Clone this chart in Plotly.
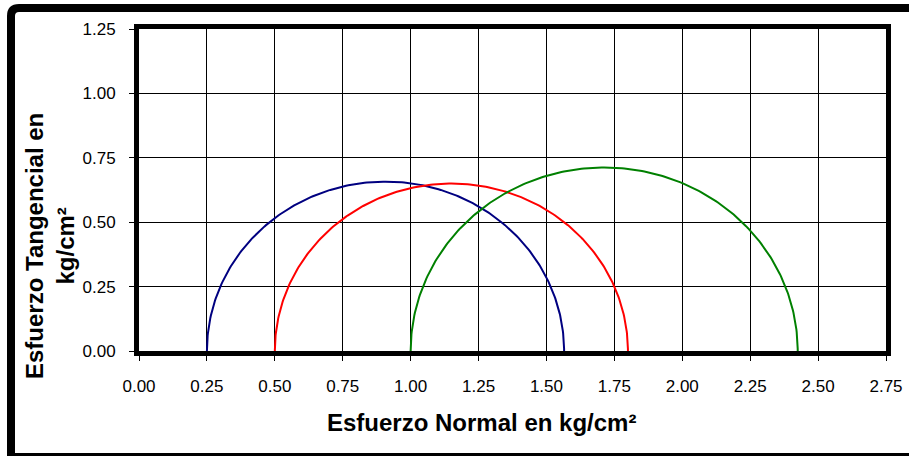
import numpy as np
import plotly.graph_objects as go

# Mohr circles: minor and major principal stresses (kg/cm2)
sigma3 = [0.25, 0.50, 1.00]
sigma1 = [1.565, 1.80, 2.425]
colors = ["#000080", "#FF0000", "#008000"]

x_ticks = [0.00, 0.25, 0.50, 0.75, 1.00, 1.25, 1.50, 1.75, 2.00, 2.25, 2.50, 2.75]
y_ticks = [0.00, 0.25, 0.50, 0.75, 1.00, 1.25]

FONT = "Liberation Sans, Arial, sans-serif"

fig = go.Figure()
theta = np.linspace(0, np.pi, 241)
for s3, s1, c in zip(sigma3, sigma1, colors):
    center = (s1 + s3) / 2
    r = (s1 - s3) / 2
    fig.add_trace(go.Scatter(
        x=center - r * np.cos(theta), y=r * np.sin(theta),
        mode="lines", line=dict(color=c, width=2), showlegend=False,
        hoverinfo="skip"))

L, R, T, B = 139, 909 - 886, 29, 456 - 351
W = 909 - L - R
H = 456 - T - B

def px(x):
    return (x - L) / W

def py(y):
    return (456 - B - y) / H

# outer frame with rounded top-left corner
fx0, fx1, fy_top, fy_bot, rad = 11, 925, 8, 457, 8
frame_path = (f"M {px(fx0)},{py(fy_bot)} L {px(fx0)},{py(fy_top + rad)} "
              f"Q {px(fx0)},{py(fy_top)} {px(fx0 + rad)},{py(fy_top)} "
              f"L {px(fx1)},{py(fy_top)} L {px(fx1)},{py(fy_bot)} Z")

axis_common = dict(showgrid=True, gridcolor="black", gridwidth=1,
                   showline=True, linecolor="black", linewidth=5, mirror=True,
                   ticks="outside", ticklen=5, tickcolor="black", tickwidth=1,
                   zeroline=False, automargin=False,
                   tickfont=dict(size=17, family=FONT, color="black"))

fig.update_layout(
    width=909, height=456,
    margin=dict(l=L, r=R, t=T, b=B),
    paper_bgcolor="white", plot_bgcolor="white",
    font=dict(family=FONT, color="black", size=16),
    xaxis=dict(range=[0, 2.75], tickvals=x_ticks,
               ticktext=[f"{v:.2f}" for v in x_ticks],
               ticklabelstandoff=11, **axis_common),
    yaxis=dict(range=[0, 1.25], tickvals=y_ticks,
               ticktext=[f"{v:.2f}" for v in y_ticks],
               ticklabelstandoff=10, **axis_common),
    annotations=[
        dict(text="<b>Esfuerzo Normal en kg/cm²</b>", xref="paper", yref="paper",
             x=px(481), y=py(422), xanchor="center", yanchor="middle",
             showarrow=False, font=dict(size=24, family=FONT)),
        dict(text="<b>Esfuerzo Tangencial en<br>kg/cm²</b>", xref="paper", yref="paper",
             x=px(50), y=py(246), xanchor="center", yanchor="middle",
             textangle=-90, showarrow=False, font=dict(size=24, family=FONT)),
    ],
    shapes=[
        dict(type="path", xref="paper", yref="paper", path=frame_path,
             line=dict(color="black", width=8), layer="below"),
    ],
)

fig.write_html("out.html")
